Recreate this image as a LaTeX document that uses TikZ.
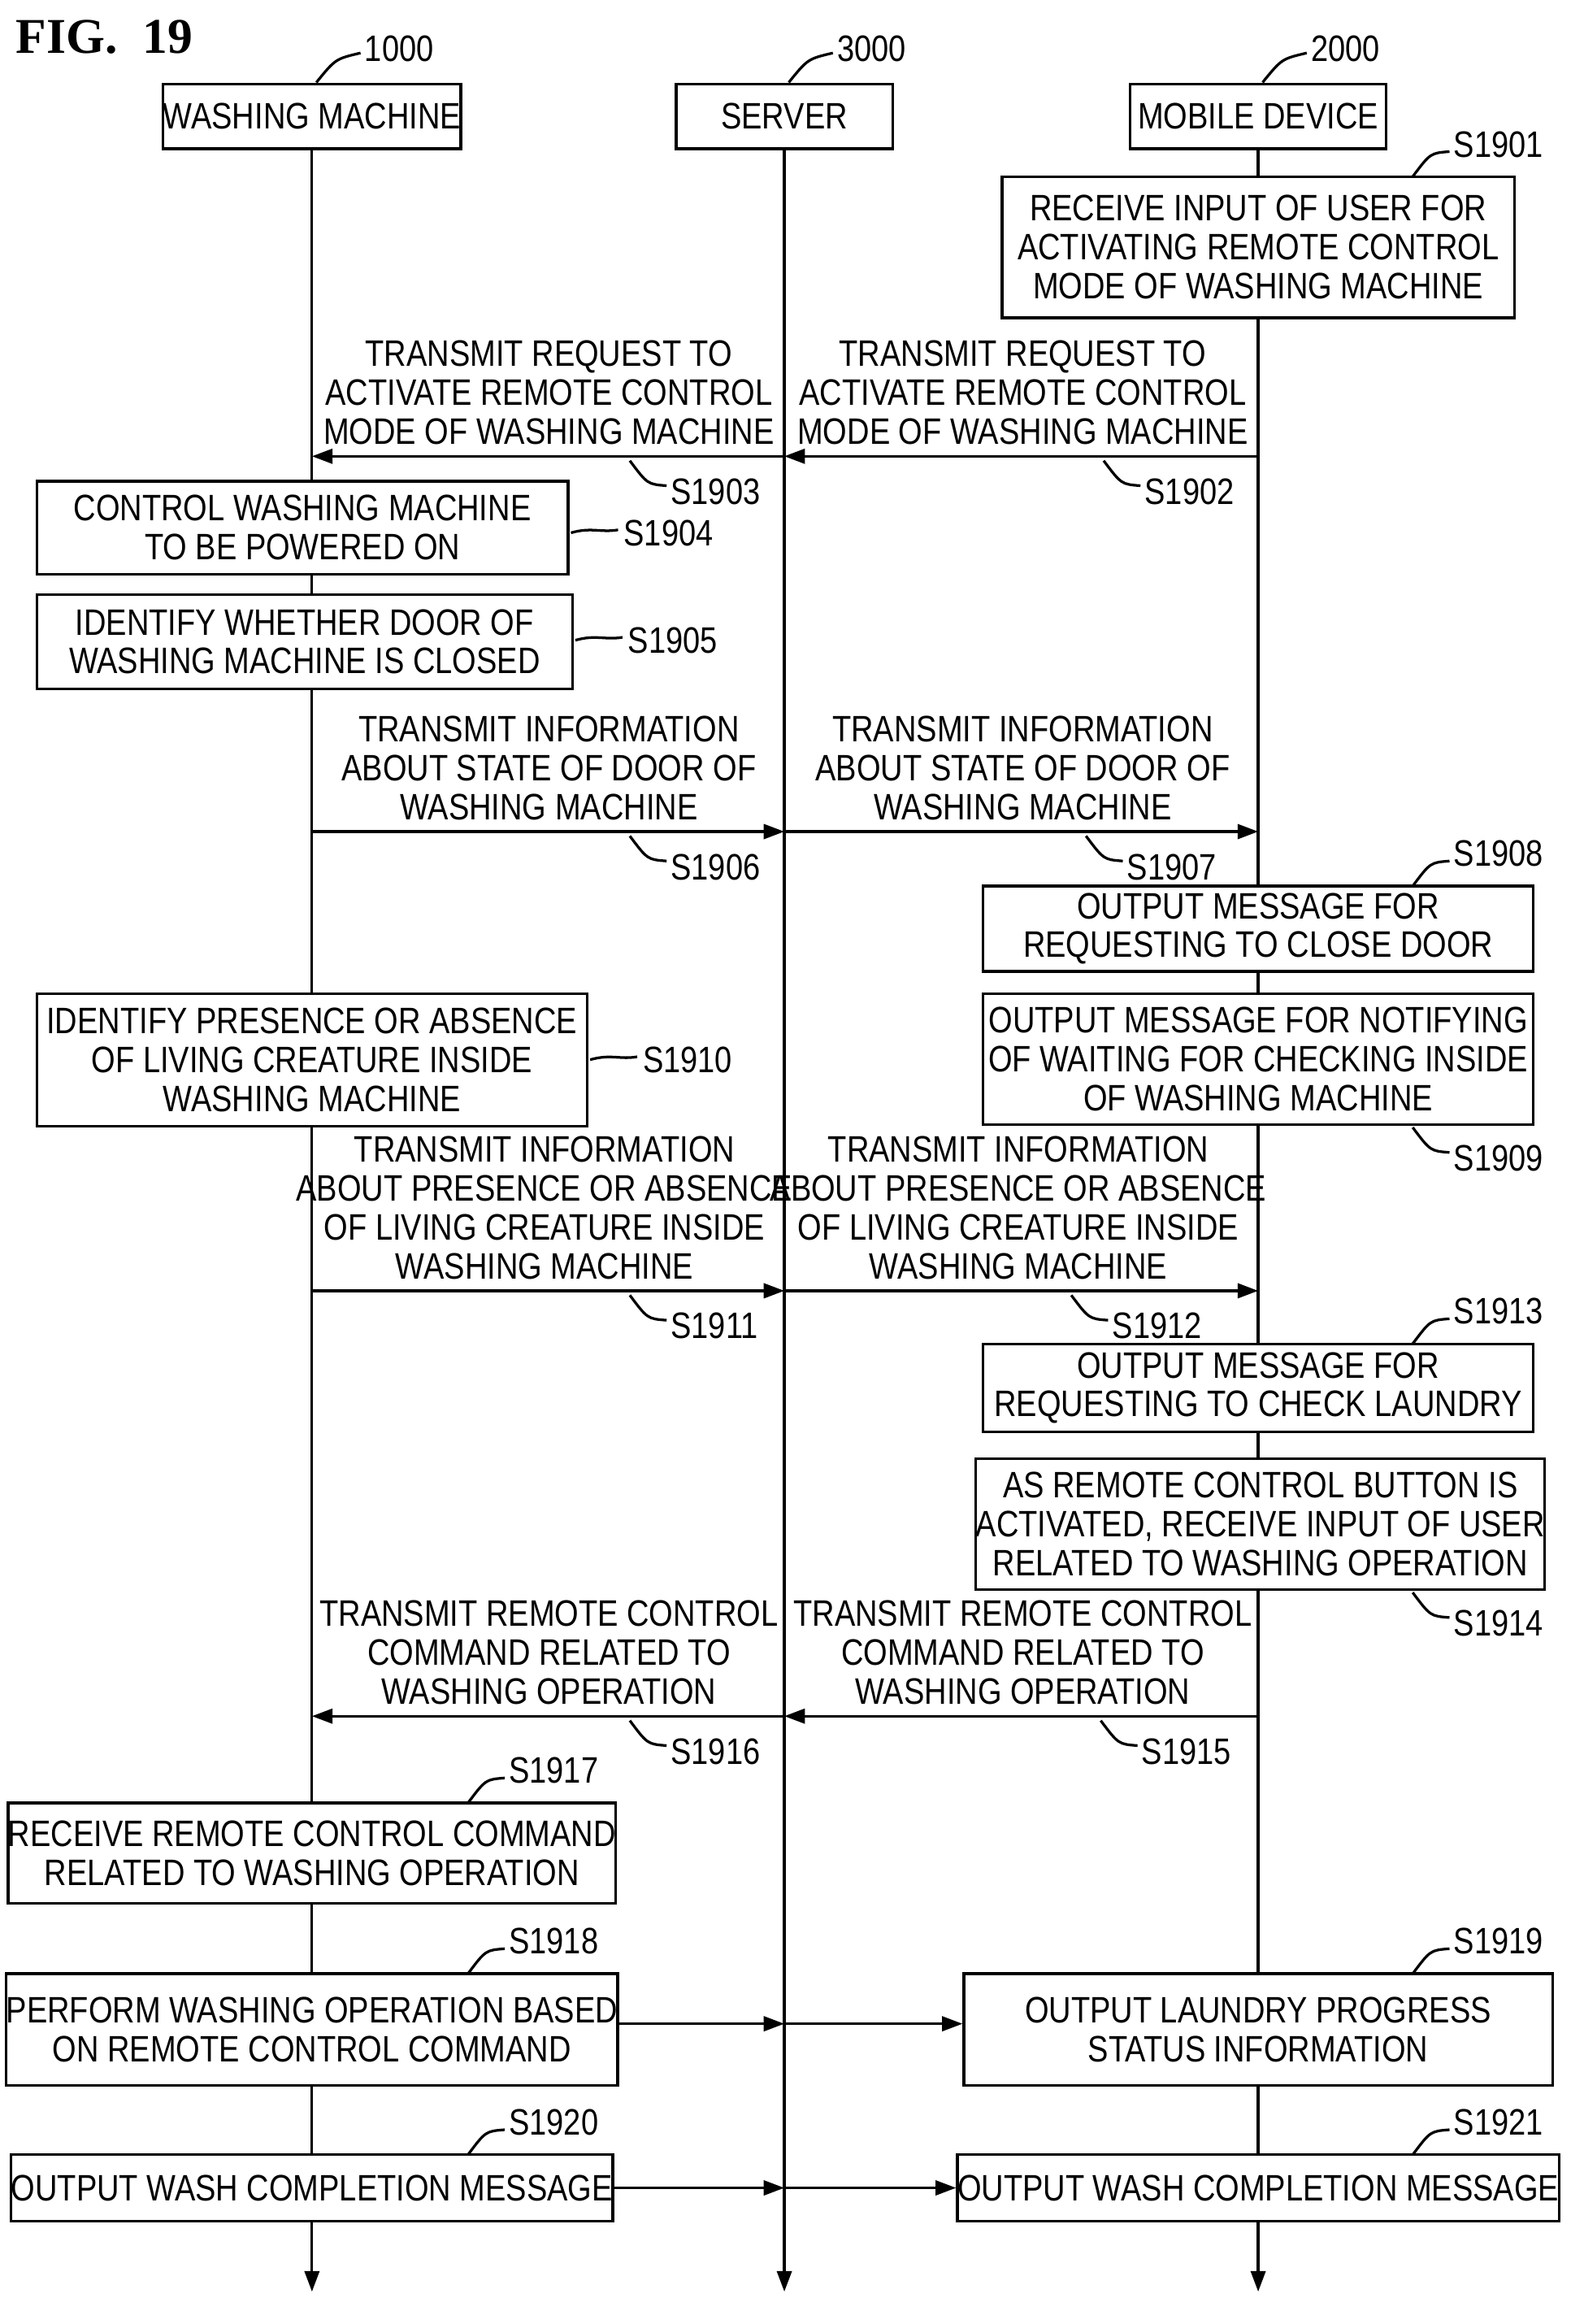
\documentclass[tikz,border=0pt]{standalone}
\usepackage{fontspec}
\setmainfont{Liberation Sans}[FakeStretch=0.84]
\newfontfamily\figfont{Liberation Serif}
\usetikzlibrary{arrows.meta}
\begin{document}
\begin{tikzpicture}[x=0.5pt,y=-0.5pt,line width=0.9pt,
  every node/.style={font=\fontsize{12.5}{13.2}\selectfont,inner sep=0pt,align=center},
  bx/.style={draw,fill=white,minimum height=#1},
  ar/.style={-{Triangle[length=7pt,width=5pt]}},
  lb/.style={anchor=west}]
\useasboundingbox[fill=white] (0,0) rectangle (1076,1579);
\node[font=\figfont\bfseries\fontsize{17}{17}\selectfont,anchor=west] (fig) at (10,25) {FIG.\ \ 19};
% headers
\node[draw,minimum width=99.5pt,minimum height=22pt] (wm) at (212,79) {WASHING MACHINE};
\node[draw,minimum width=73.5pt,minimum height=22pt] (sv) at (533,79) {SERVER};
\node[draw,minimum width=87pt,minimum height=22pt] (md) at (855,79) {MOBILE DEVICE};
\node[lb] (n1) at (247,33) {1000};
\node[lb] (n3) at (568,33) {3000};
\node[lb] (n2) at (890,33) {2000};
\draw (215,56) .. controls (228,40) .. (245,36);
\draw (536,56) .. controls (549,40) .. (566,36);
\draw (858,56) .. controls (871,40) .. (888,36);
% lifelines
\coordinate (wmE) at (212,1557);
\coordinate (svE) at (533,1557);
\coordinate (mdE) at (855,1557);
\draw[ar] (wm.south) -- (wmE);
\draw[ar] (sv.south) -- (svE);
\draw[ar] (md.south) -- (mdE);
% leader macro
\newcommand\ldr[3]{\draw (#1,#2) .. controls (#1+12,#2-16) .. (#1+25,#2-17); \node[lb] at (#1+27,#2-22) {#3};}
\newcommand\ldd[3]{\draw (#1,#2) .. controls (#1+12,#2+16) .. (#1+25,#2+17); \node[lb] at (#1+27,#2+21) {#3};}
\newcommand\lds[3]{\draw (#1,#2) .. controls (#1+14,#2-4) and (#1+20,#2) .. (#1+32,#2-2); \node[lb] at (#1+35,#2) {#3};}
% S1901
\node[bx=48pt,minimum width=174pt] (b1901) at (855,168) {RECEIVE INPUT OF USER FOR\\ACTIVATING REMOTE CONTROL\\MODE OF WASHING MACHINE};
\ldr{960}{120}{S1901}
% S1902/3
\coordinate (a2) at (855,310); \coordinate (a2s) at (533,310); \coordinate (a2w) at (212,310);
\draw[ar] (a2) -- (a2s);
\draw[ar] (a2s) -- (a2w);
\node[anchor=south] at (695,303) {TRANSMIT REQUEST TO\\ACTIVATE REMOTE CONTROL\\MODE OF WASHING MACHINE};
\node[anchor=south] at (373,303) {TRANSMIT REQUEST TO\\ACTIVATE REMOTE CONTROL\\MODE OF WASHING MACHINE};
\ldd{750}{313}{S1902}
\ldd{428}{313}{S1903}
% S1904/5
\node[bx=31.5pt,minimum width=180.5pt] (b1904) at (205.5,358.5) {CONTROL WASHING MACHINE\\TO BE POWERED ON};
\lds{388}{362}{S1904}
\node[bx=32pt,minimum width=182pt] (b1905) at (207,436) {IDENTIFY WHETHER DOOR OF\\WASHING MACHINE IS CLOSED};
\lds{391}{435}{S1905}
% S1906/7
\coordinate (a6) at (212,565); \coordinate (a6s) at (533,565); \coordinate (a6m) at (855,565);
\draw[ar] (a6) -- (a6s);
\draw[ar] (a6s) -- (a6m);
\node[anchor=south] at (373,558) {TRANSMIT INFORMATION\\ABOUT STATE OF DOOR OF\\WASHING MACHINE};
\node[anchor=south] at (695,558) {TRANSMIT INFORMATION\\ABOUT STATE OF DOOR OF\\WASHING MACHINE};
\ldd{428}{568}{S1906}
\ldd{738}{568}{S1907}
% S1908
\node[bx=29pt,minimum width=187pt] (b1908) at (855,631) {OUTPUT MESSAGE FOR\\REQUESTING TO CLOSE DOOR};
\ldr{960}{602}{S1908}
% S1909
\node[bx=44.5pt,minimum width=187pt] (b1909) at (855,719.5) {OUTPUT MESSAGE FOR NOTIFYING\\OF WAITING FOR CHECKING INSIDE\\OF WASHING MACHINE};
\ldd{960}{766}{S1909}
% S1910
\node[bx=45pt,minimum width=187pt] (b1910) at (212,720) {IDENTIFY PRESENCE OR ABSENCE\\OF LIVING CREATURE INSIDE\\WASHING MACHINE};
\lds{401}{720}{S1910}
% S1911/12
\coordinate (a11) at (212,877); \coordinate (a11s) at (533,877); \coordinate (a11m) at (855,877);
\draw[ar] (a11) -- (a11s);
\draw[ar] (a11s) -- (a11m);
\node[anchor=south] at (370,870) {TRANSMIT INFORMATION\\ABOUT PRESENCE OR ABSENCE\\OF LIVING CREATURE INSIDE\\WASHING MACHINE};
\node[anchor=south] at (692,870) {TRANSMIT INFORMATION\\ABOUT PRESENCE OR ABSENCE\\OF LIVING CREATURE INSIDE\\WASHING MACHINE};
\ldd{428}{880}{S1911}
\ldd{728}{880}{S1912}
% S1913
\node[bx=30pt,minimum width=187pt] (b1913) at (855,943) {OUTPUT MESSAGE FOR\\REQUESTING TO CHECK LAUNDRY};
\ldr{960}{913}{S1913}
% S1914
\node[bx=44.5pt,minimum width=186.5pt] (b1914) at (856.5,1035.5) {AS REMOTE CONTROL BUTTON IS\\ACTIVATED, RECEIVE INPUT OF USER\\RELATED TO WASHING OPERATION};
\ldd{960}{1082}{S1914}
% S1915/16
\coordinate (a15) at (855,1166); \coordinate (a15s) at (533,1166); \coordinate (a15w) at (212,1166);
\draw[ar] (a15) -- (a15s);
\draw[ar] (a15s) -- (a15w);
\node[anchor=south] at (695,1159) {TRANSMIT REMOTE CONTROL\\COMMAND RELATED TO\\WASHING OPERATION};
\node[anchor=south] at (373,1159) {TRANSMIT REMOTE CONTROL\\COMMAND RELATED TO\\WASHING OPERATION};
\ldd{748}{1169}{S1915}
\ldd{428}{1169}{S1916}
% S1917
\node[bx=34pt,minimum width=200pt] (b1917) at (212,1259) {RECEIVE REMOTE CONTROL COMMAND\\RELATED TO WASHING OPERATION};
\ldr{318}{1225}{S1917}
% S1918/19
\node[bx=38pt,minimum width=200pt] (b1918) at (212,1379) {PERFORM WASHING OPERATION BASED\\ON REMOTE CONTROL COMMAND};
\ldr{318}{1341}{S1918}
\node[bx=38pt,minimum width=200pt] (b1919) at (855,1379) {OUTPUT LAUNDRY PROGRESS\\STATUS INFORMATION};
\ldr{960}{1341}{S1919}
\coordinate (c18) at (533,1375);
\draw[ar] (b1918.east |- c18) -- (c18);
\draw[ar] (c18) -- (b1919.west |- c18);
% S1920/21
\node[bx=22.5pt,minimum width=200pt] (b1920) at (212,1486.5) {OUTPUT WASH COMPLETION MESSAGE};
\ldr{318}{1464}{S1920}
\node[bx=22.5pt,minimum width=200pt] (b1921) at (855,1486.5) {OUTPUT WASH COMPLETION MESSAGE};
\ldr{960}{1464}{S1921}
\coordinate (c20) at (533,1486.5);
\draw[ar] (b1920.east) -- (c20);
\draw[ar] (c20) -- (b1921.west);
\end{tikzpicture}
\end{document}
